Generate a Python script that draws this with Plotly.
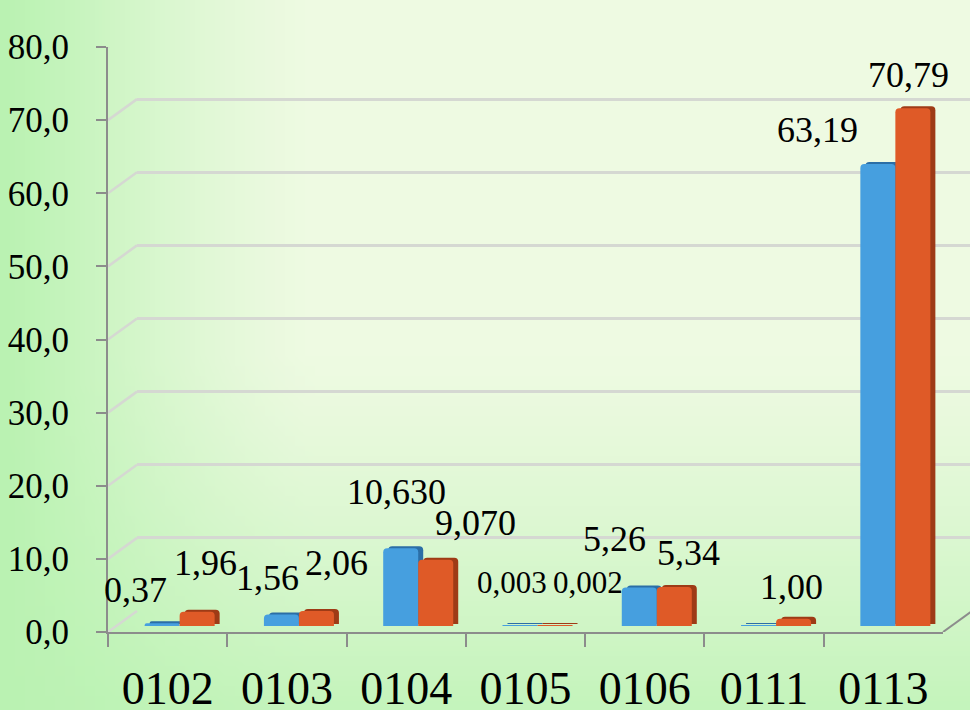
import zlib, struct, base64
import plotly.graph_objects as go

W, H = 970, 710

# ---------------- data ----------------
categories = ["0102", "0103", "0104", "0105", "0106", "0111", "0113"]
blue_values = [0.37, 1.56, 10.63, 0.003, 5.26, 0.05, 63.19]
orange_values = [1.96, 2.06, 9.07, 0.002, 5.34, 1.00, 70.79]
blue_labels = ["0,37", "1,56", "10,630", "0,003", "5,26", "", "63,19"]
orange_labels = ["1,96", "2,06", "9,070", "0,002", "5,34", "1,00", "70,79"]
y_ticks = [0, 10, 20, 30, 40, 50, 60, 70, 80]

# ---------------- style ----------------
FONT = "Liberation Serif"
BLUE, BLUE_SIDE = "#469fdf", "#2b6ea6"
ORANGE, ORANGE_SIDE = "#df5a27", "#9e3b16"
AXIS_COLOR = "#8c8c8c"
GRID_COLOR = "#d5d8d2"

blue_dx = [-44, -31, -22, -26, -42, 0, -78]
blue_dy = [33, 37, 56, 43, 49, 0, 34]
orange_dx = [26, 38, 57, 50, 32, 15, 13]
orange_dy = [49, 48, 37, 43, 34, 32, 33]
blue_sizes = [36, 36, 36, 31, 36, 36, 36]
orange_sizes = [36, 36, 36, 31, 36, 36, 36]


def fx(p):
    return p / W


def fy(p):
    return 1 - p / H


# pixel geometry of the pseudo-3D frame
FRONT_L, FRONT_R, FRONT_0, FRONT_80 = 108, 943, 632, 47
DEPTH_X, DEPTH_Y = 29, 21
BAR_DX, BAR_DY = 12, 6
SIDE_DX, SIDE_DY = 5, 2
px_per_unit = (FRONT_0 - FRONT_80) / 80.0


# ---------------- background gradient image ----------------
def make_bg():
    w, h = 97, 71
    light = (238, 250, 226)
    green = (186, 242, 178)
    rows = []
    for j in range(h):
        v = j / (h - 1)
        row = bytearray([0])
        for i in range(w):
            u = i / (w - 1)
            wl = max(0.0, 1 - u / 0.32) ** 1.3
            wb = (max(0.0, (v - 0.5) / 0.5) ** 1.2) * 0.8
            wt = max(0.0, 1 - (u) / 0.15) * 0.2
            wgt = 1 - (1 - wl) * (1 - wb) * (1 - wt)
            for c in range(3):
                row.append(int(round(light[c] + (green[c] - light[c]) * wgt)))
        rows.append(bytes(row))
    raw = b"".join(rows)

    def chunk(tag, data):
        c = struct.pack(">I", len(data)) + tag + data
        return c + struct.pack(">I", zlib.crc32(tag + data) & 0xFFFFFFFF)

    png = b"\x89PNG\r\n\x1a\n"
    png += chunk(b"IHDR", struct.pack(">IIBBBBB", w, h, 8, 2, 0, 0, 0))
    png += chunk(b"IDAT", zlib.compress(raw, 9))
    png += chunk(b"IEND", b"")
    return "data:image/png;base64," + base64.b64encode(png).decode()


fig = go.Figure()

# subplot 1: back wall grid
fig.add_trace(go.Scatter(x=[0], y=[0], mode="markers", marker=dict(opacity=0),
                         hoverinfo="skip", showlegend=False, xaxis="x", yaxis="y"))
# subplot 2: bar side faces
fig.add_trace(go.Bar(x=categories, y=blue_values, marker=dict(color=BLUE_SIDE),
                     xaxis="x2", yaxis="y2", showlegend=False, hoverinfo="skip"))
fig.add_trace(go.Bar(x=categories, y=orange_values, marker=dict(color=ORANGE_SIDE),
                     xaxis="x2", yaxis="y2", showlegend=False, hoverinfo="skip"))
# subplot 3: bars
fig.add_trace(go.Bar(x=categories, y=blue_values, marker=dict(color=BLUE),
                     xaxis="x3", yaxis="y3", showlegend=False, name="1"))
fig.add_trace(go.Bar(x=categories, y=orange_values, marker=dict(color=ORANGE),
                     xaxis="x3", yaxis="y3", showlegend=False, name="2"))
# subplot 4: front axes
fig.add_trace(go.Scatter(x=categories, y=[None] * len(categories), mode="markers",
                         hoverinfo="skip", showlegend=False, xaxis="x4", yaxis="y4"))

common_cat = dict(type="category", range=[-0.5, len(categories) - 0.5],
                  categoryorder="array", categoryarray=categories)
hidden = dict(showgrid=False, showline=False, showticklabels=False, zeroline=False,
              ticks="", automargin=False)

fig.update_layout(
    template="none",
    width=W, height=H, autosize=False,
    margin=dict(l=0, r=0, t=0, b=0, pad=0, autoexpand=False),
    paper_bgcolor="#e6f8da", plot_bgcolor="rgba(0,0,0,0)",
    separators=", ",
    barmode="group", bargap=0.413, bargroupgap=0.0, barcornerradius=4,
    font=dict(family=FONT, color="black"),
    xaxis=dict(domain=[fx(FRONT_L + DEPTH_X), 1], range=[0, 1], anchor="y", **hidden),
    yaxis=dict(domain=[fy(FRONT_0 - DEPTH_Y), fy(FRONT_80 - DEPTH_Y)], range=[0, 80],
               anchor="x", tickvals=y_ticks, showgrid=True, gridcolor=GRID_COLOR,
               gridwidth=2.5, showline=False, showticklabels=False, zeroline=False,
               ticks="", automargin=False),
    xaxis2=dict(domain=[fx(FRONT_L + BAR_DX + SIDE_DX), fx(FRONT_R + BAR_DX + SIDE_DX)],
                anchor="y2", **hidden, **common_cat),
    yaxis2=dict(domain=[fy(FRONT_0 - BAR_DY - SIDE_DY), fy(FRONT_80 - BAR_DY - SIDE_DY)],
                range=[0, 80], anchor="x2", **hidden),
    xaxis3=dict(domain=[fx(FRONT_L + BAR_DX), fx(FRONT_R + BAR_DX)],
                anchor="y3", **hidden, **common_cat),
    yaxis3=dict(domain=[fy(FRONT_0 - BAR_DY), fy(FRONT_80 - BAR_DY)],
                range=[0, 80], anchor="x3", **hidden),
    xaxis4=dict(domain=[fx(FRONT_L), fx(FRONT_R)], anchor="y4", tickson="boundaries",
                showline=True, linecolor=AXIS_COLOR, linewidth=2, ticks="outside",
                ticklen=13, tickwidth=2, tickcolor=AXIS_COLOR, showgrid=False,
                zeroline=False, tickfont=dict(family=FONT, size=46, color="black"),
                ticklabelstandoff=15, automargin=False, **common_cat),
    yaxis4=dict(domain=[fy(FRONT_0), fy(FRONT_80)], range=[0, 80], anchor="x4",
                tickvals=y_ticks, tickformat=".1f", showline=True, linecolor=AXIS_COLOR,
                linewidth=2, ticks="outside", ticklen=10, tickwidth=2, tickcolor=AXIS_COLOR,
                showgrid=False, zeroline=False, ticklabelstandoff=20, automargin=False,
                tickfont=dict(family=FONT, size=35, color="black")),
    images=[dict(source=make_bg(), xref="paper", yref="paper", x=0, y=1,
                 sizex=1, sizey=1, sizing="stretch", layer="below", xanchor="left",
                 yanchor="top")],
)

# diagonal connectors between front axis ticks and back wall grid
shapes = []
dy_units = DEPTH_Y / px_per_unit
for v in y_ticks:
    shapes.append(dict(type="line", xref="paper", yref="y4", x0=fx(FRONT_L), y0=v,
                       x1=fx(FRONT_L + DEPTH_X), y1=v + dy_units,
                       line=dict(color=GRID_COLOR, width=2.5), layer="below"))
# right floor edge
shapes.append(dict(type="line", xref="paper", yref="y4", x0=fx(FRONT_R), y0=0,
                   x1=fx(FRONT_R + DEPTH_X), y1=dy_units,
                   line=dict(color=AXIS_COLOR, width=2), layer="below"))
fig.update_layout(shapes=shapes)

# data labels (category axis positions given by category index)
annotations = []
for i, c in enumerate(categories):
    if blue_labels[i]:
        annotations.append(dict(x=i, y=blue_values[i], xref="x3", yref="y3",
                                text=blue_labels[i], showarrow=False,
                                xanchor="center", yanchor="middle",
                                xshift=blue_dx[i], yshift=blue_dy[i],
                                font=dict(family=FONT, size=blue_sizes[i], color="black")))
    if orange_labels[i]:
        annotations.append(dict(x=i, y=orange_values[i], xref="x3", yref="y3",
                                text=orange_labels[i], showarrow=False,
                                xanchor="center", yanchor="middle",
                                xshift=orange_dx[i], yshift=orange_dy[i],
                                font=dict(family=FONT, size=orange_sizes[i], color="black")))
fig.update_layout(annotations=annotations)

fig.write_html("out.html", config={"displayModeBar": False},
               post_script="document.body.style.margin='0';document.body.style.padding='0';")
